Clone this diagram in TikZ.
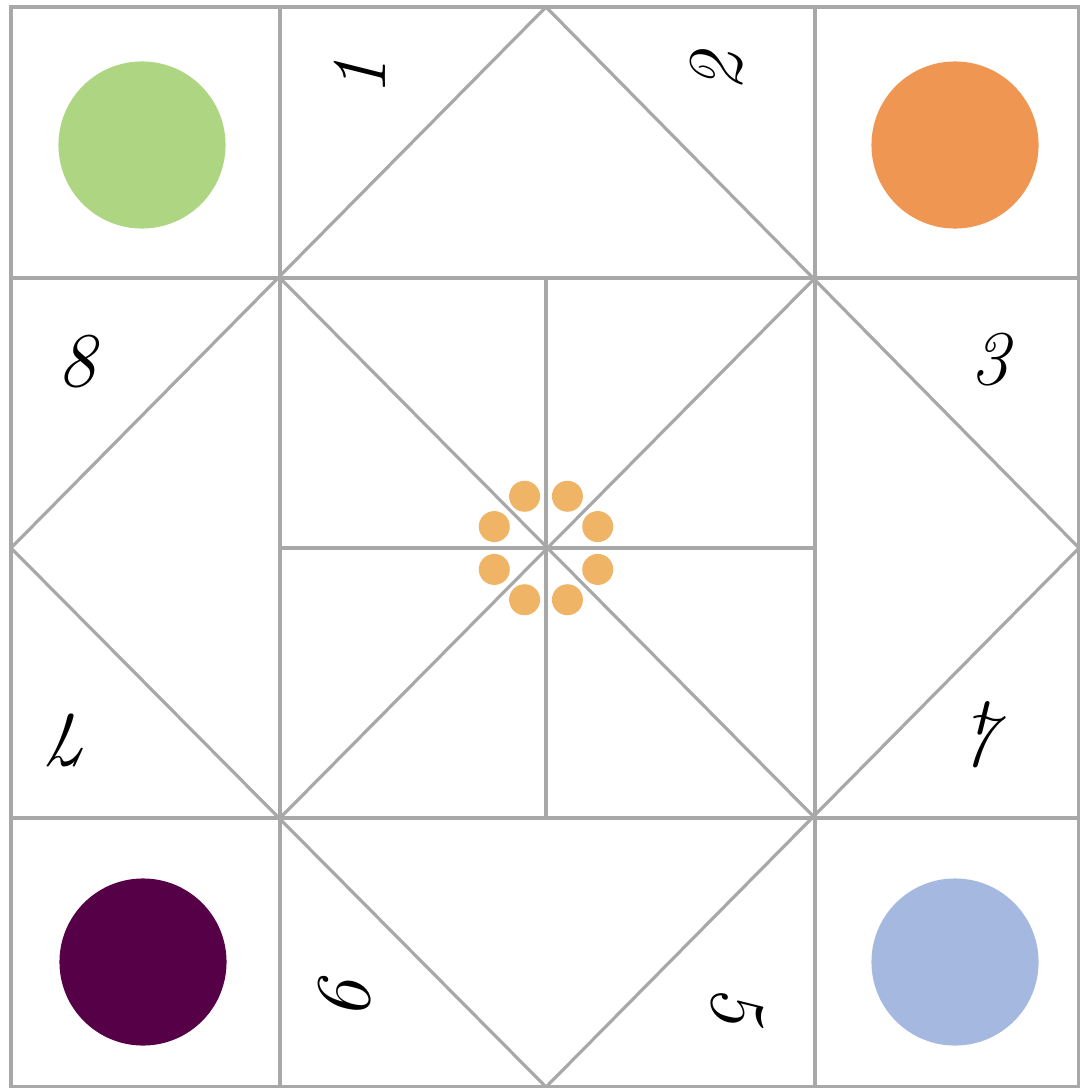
\documentclass[tikz,border=0pt]{standalone}
\usepackage{fontspec}
\usetikzlibrary{calc}
\definecolor{gridgray}{RGB}{168,168,168}
\definecolor{cgreen}{RGB}{174,214,130}
\definecolor{corange}{RGB}{238,150,82}
\definecolor{cpurple}{RGB}{86,0,71}
\definecolor{cblue}{RGB}{164,184,224}
\definecolor{cdot}{RGB}{239,180,102}
\begin{document}
\begin{tikzpicture}[x=0.01cm,y=-0.01cm,
  gridline/.style={draw=gridgray,line width=0.9pt},
  bigdot/.style={circle,inner sep=0pt,minimum size=1.67cm},
  smalldot/.style={circle,fill=cdot,inner sep=0pt,minimum size=0.31cm},
  num/.style={font=\fontsize{22}{26}\selectfont\itshape,inner sep=0pt}]
\useasboundingbox (0,0) rectangle (1080,1088);
\fill[white] (0,0) rectangle (1080,1088);
% corner coordinates
\coordinate (TL) at (11,7);
\coordinate (TR) at (1079,7);
\coordinate (BL) at (11,1087);
\coordinate (BR) at (1079,1087);
\coordinate (T) at (546,7);
\coordinate (B) at (546,1087);
\coordinate (L) at (11,548);
\coordinate (R) at (1079,548);
\coordinate (a1) at (280,278);
\coordinate (a2) at (815,278);
\coordinate (a3) at (815,818);
\coordinate (a4) at (280,818);
\coordinate (C) at (546,548);
% outer frame
\draw[gridline] (TL) rectangle (BR);
% grid lines
\draw[gridline] (280,7) -- (280,1087);
\draw[gridline] (815,7) -- (815,1087);
\draw[gridline] (11,278) -- (1079,278);
\draw[gridline] (11,818) -- (1079,818);
\draw[gridline] (546,278) -- (546,818);
\draw[gridline] (280,548) -- (815,548);
% outer diamond
\draw[gridline] (T) -- (R) -- (B) -- (L) -- cycle;
% inner diagonals
\draw[gridline] (a1) -- (a3);
\draw[gridline] (a2) -- (a4);
% corner circles
\node[bigdot,fill=cgreen] (g) at (142,145) {};
\node[bigdot,fill=corange] (o) at (955,145) {};
\node[bigdot,fill=cpurple] (p) at (143,962) {};
\node[bigdot,fill=cblue] (b) at (955,962) {};
% small dots
\foreach \ang [count=\i] in {22.5,67.5,112.5,157.5,202.5,247.5,292.5,337.5}
  \node[smalldot] (d\i) at ($(C)+(\ang:56)$) {};
% numbers
\node[num,rotate=90] (n1) at (360,77) {1};
\node[num,rotate=90] (n2) at (717,72) {2};
\node[num] (n8) at (77,362) {8};
\node[num] (n3) at (990,360) {3};
\node[num,rotate=180] (n7) at (75,740) {7};
\node[num,rotate=180] (n4) at (990,735) {4};
\node[num,rotate=90] (n6) at (345,1000) {6};
\node[num,rotate=-90] (n5) at (737,1005) {5};
\end{tikzpicture}
\end{document}
